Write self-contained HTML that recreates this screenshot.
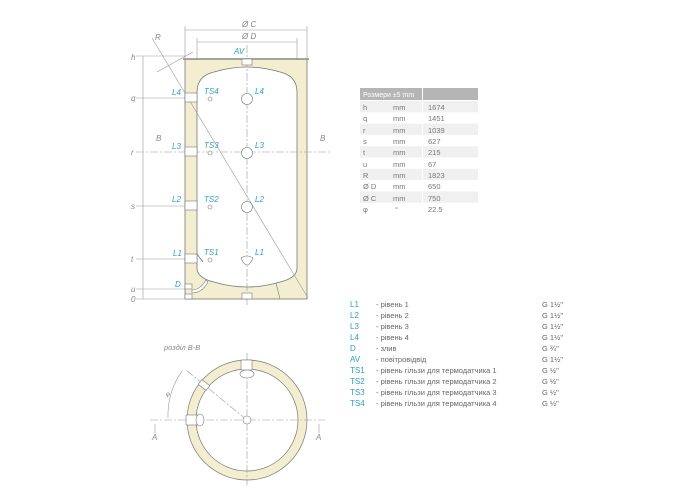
<!DOCTYPE html>
<html><head><meta charset="utf-8"><style>
html,body{margin:0;padding:0;background:#fff;width:700px;height:500px;overflow:hidden}
svg{display:block}
text{font-family:"Liberation Sans","DejaVu Sans",sans-serif}
.lb{fill:#2a9fd0;font-style:italic;font-size:8px}
.dl{fill:#888;font-style:italic;font-size:8px}
.tb{font-size:7.5px;fill:#777}
.lg{font-size:7.5px;fill:#666}
.lc{font-size:8px;fill:#2a9fd0}
</style></head><body>
<svg width="700" height="500" viewBox="0 0 700 500">
<g stroke="#999" stroke-width="0.6" fill="none">
<line x1="185" y1="30" x2="307" y2="30"/><line x1="185" y1="26" x2="185" y2="58"/><line x1="307" y1="26" x2="307" y2="58"/>
<line x1="197" y1="42" x2="297" y2="42"/><line x1="197" y1="38" x2="197" y2="66"/><line x1="297" y1="38" x2="297" y2="66"/>
<line x1="143" y1="56" x2="143" y2="299"/>
<line x1="136" y1="56" x2="185" y2="56"/>
<line x1="136" y1="98" x2="197" y2="98"/>
<line x1="136" y1="206" x2="197" y2="206"/>
<line x1="136" y1="259" x2="197" y2="259"/>
<line x1="136" y1="289" x2="185" y2="289"/>
<line x1="136" y1="299" x2="185" y2="299"/>
<line x1="157" y1="72" x2="193" y2="52"/>
</g>
<text x="242" y="27" class="dl">Ø C</text>
<text x="242" y="39" class="dl">Ø D</text>
<text x="155" y="40" class="dl">R</text>
<g class="dl"><text x="131" y="60">h</text><text x="131" y="101">q</text><text x="131" y="155">r</text><text x="131" y="209">s</text><text x="131" y="262">t</text><text x="131" y="292">u</text><text x="131" y="302">0</text>
<text x="156" y="141">B</text><text x="320" y="141">B</text></g>
<!-- tank -->
<rect x="185" y="59" width="122" height="240" fill="#f3eed0" stroke="#777" stroke-width="0.8"/>
<path d="M197,92 Q197,76 214,72 Q247,62 280,72 Q297,76 297,92 L297,268 Q297,278 280,282 Q247,292 214,282 Q197,278 197,268 Z" fill="#fff" stroke="#777" stroke-width="0.8"/>
<line x1="183" y1="59" x2="309" y2="59" stroke="#888" stroke-width="1.5"/>
<g stroke="#999" stroke-width="0.6" fill="none">
<line x1="136" y1="152" x2="330" y2="152" stroke-dasharray="8,2,2,2"/>
<line x1="247" y1="45" x2="247" y2="305" stroke-dasharray="8,2,2,2"/>
<line x1="152" y1="38" x2="308" y2="298"/>
<line x1="276" y1="283" x2="280" y2="299" stroke="#777"/>
</g>
<text x="234" y="54" class="lb">AV</text>
<rect x="242" y="59" width="10" height="6" fill="#fff" stroke="#777" stroke-width="0.6"/>
<rect x="242" y="293" width="10" height="6" fill="#fff" stroke="#777" stroke-width="0.6"/>
<g fill="#fff" stroke="#777" stroke-width="0.6">
<rect x="185" y="93" width="12" height="9"/><rect x="185" y="147" width="12" height="9"/><rect x="185" y="201" width="12" height="9"/><rect x="185" y="254" width="12" height="9"/>
<rect x="185" y="284" width="7" height="5"/><rect x="185" y="294" width="7" height="5"/>
<circle cx="247" cy="99" r="5.5"/><circle cx="247" cy="153" r="5.5"/><circle cx="247" cy="207" r="5.5"/><path d="M241,258 Q247,254 253,258 Q250,265 247,265 Q244,265 241,258Z"/>
<circle cx="210" cy="99" r="2"/><circle cx="210" cy="153" r="2"/><circle cx="210" cy="207" r="2"/><circle cx="210" cy="260" r="2"/>
<path d="M192,290 Q200,290 206,280 L208,282 Q202,293 192,293Z"/>
</g>
<line x1="197" y1="254" x2="203" y2="262" stroke="#777" stroke-width="0.8"/>
<g class="lb"><text x="172" y="95">L4</text><text x="204" y="94">TS4</text><text x="255" y="94">L4</text>
<text x="172" y="149">L3</text><text x="204" y="148">TS3</text><text x="255" y="148">L3</text>
<text x="172" y="202">L2</text><text x="204" y="202">TS2</text><text x="255" y="202">L2</text>
<text x="173" y="256">L1</text><text x="204" y="255">TS1</text><text x="255" y="255">L1</text>
<text x="175" y="287">D</text></g>
<!-- table -->
<rect x="360" y="88" width="62" height="12" fill="#b5b5b5"/><rect x="423" y="88" width="55" height="12" fill="#b5b5b5"/>
<text x="363" y="97" style="font-size:7px;fill:#fff">Розмери ±5 mm</text>
<g>
<rect x="360" y="101" width="118" height="11.3" fill="#f0f0f0"/>
<rect x="360" y="123.6" width="118" height="11.3" fill="#f0f0f0"/>
<rect x="360" y="146.2" width="118" height="11.3" fill="#f0f0f0"/>
<rect x="360" y="168.8" width="118" height="11.3" fill="#f0f0f0"/>
<rect x="360" y="191.4" width="118" height="11.3" fill="#f0f0f0"/>
<line x1="422.5" y1="101" x2="422.5" y2="214" stroke="#fff" stroke-width="1"/>
</g>
<g class="tb">
<text x="363" y="110">h</text><text x="393" y="110">mm</text><text x="428" y="110">1674</text>
<text x="363" y="121">q</text><text x="393" y="121">mm</text><text x="428" y="121">1451</text>
<text x="363" y="133">r</text><text x="393" y="133">mm</text><text x="428" y="133">1039</text>
<text x="363" y="144">s</text><text x="393" y="144">mm</text><text x="428" y="144">627</text>
<text x="363" y="155">t</text><text x="393" y="155">mm</text><text x="428" y="155">215</text>
<text x="363" y="167">u</text><text x="393" y="167">mm</text><text x="428" y="167">67</text>
<text x="363" y="178">R</text><text x="393" y="178">mm</text><text x="428" y="178">1823</text>
<text x="363" y="189">Ø D</text><text x="393" y="189">mm</text><text x="428" y="189">650</text>
<text x="363" y="201">Ø C</text><text x="393" y="201">mm</text><text x="428" y="201">750</text>
<text x="363" y="212">φ</text><text x="395" y="212">°</text><text x="428" y="212">22.5</text>
</g>
<!-- legend -->
<g>
<text x="350" y="307" class="lc">L1</text><text x="376" y="307" class="lg">- рівень 1</text><text x="542" y="307" class="lg">G 1½"</text>
<text x="350" y="318" class="lc">L2</text><text x="376" y="318" class="lg">- рівень 2</text><text x="542" y="318" class="lg">G 1½"</text>
<text x="350" y="329" class="lc">L3</text><text x="376" y="329" class="lg">- рівень 3</text><text x="542" y="329" class="lg">G 1½"</text>
<text x="350" y="340" class="lc">L4</text><text x="376" y="340" class="lg">- рівень 4</text><text x="542" y="340" class="lg">G 1½"</text>
<text x="350" y="351" class="lc">D</text><text x="376" y="351" class="lg">- злив</text><text x="542" y="351" class="lg">G ¾"</text>
<text x="350" y="362" class="lc">AV</text><text x="376" y="362" class="lg">- повітровідвід</text><text x="542" y="362" class="lg">G 1½"</text>
<text x="350" y="373" class="lc">TS1</text><text x="376" y="373" class="lg">- рівень гільзи для термодатчика 1</text><text x="542" y="373" class="lg">G ½"</text>
<text x="350" y="384" class="lc">TS2</text><text x="376" y="384" class="lg">- рівень гільзи для термодатчика 2</text><text x="542" y="384" class="lg">G ½"</text>
<text x="350" y="395" class="lc">TS3</text><text x="376" y="395" class="lg">- рівень гільзи для термодатчика 3</text><text x="542" y="395" class="lg">G ½"</text>
<text x="350" y="406" class="lc">TS4</text><text x="376" y="406" class="lg">- рівень гільзи для термодатчика 4</text><text x="542" y="406" class="lg">G ½"</text>
</g>
<!-- section -->
<text x="164" y="350" class="dl" style="font-size:7.5px">розділ B-B</text>
<circle cx="247" cy="420" r="55.5" fill="none" stroke="#f3eed0" stroke-width="9"/>
<circle cx="247" cy="420" r="60" fill="none" stroke="#777" stroke-width="0.7"/>
<circle cx="247" cy="420" r="51" fill="none" stroke="#777" stroke-width="0.7"/>
<g stroke="#999" stroke-width="0.6" fill="none">
<line x1="150" y1="420" x2="325" y2="420" stroke-dasharray="8,2,2,2"/>
<line x1="247" y1="353" x2="247" y2="485" stroke-dasharray="8,2,2,2"/>
<line x1="247" y1="420" x2="186" y2="370" stroke-dasharray="8,2,2,2"/>
<path d="M182,371 A78,78 0 0 0 168,418"/>
<line x1="155" y1="424" x2="155" y2="433"/><line x1="319" y1="424" x2="319" y2="433"/>
</g>
<g fill="#fff" stroke="#777" stroke-width="0.6">
<rect x="241" y="360" width="11" height="10"/><ellipse cx="247" cy="374" rx="7" ry="4"/>
<rect x="186" y="415" width="11" height="10"/><ellipse cx="200" cy="420" rx="4" ry="6"/>
<rect x="199" y="382" width="10" height="6" transform="rotate(38 204 385)"/>
<circle cx="247" cy="420" r="4"/>
</g>
<text x="166" y="396" class="dl" style="font-size:6px">φ</text>
<text x="152" y="440" class="dl">A</text><text x="316" y="440" class="dl">A</text>
</svg>
</body></html>
